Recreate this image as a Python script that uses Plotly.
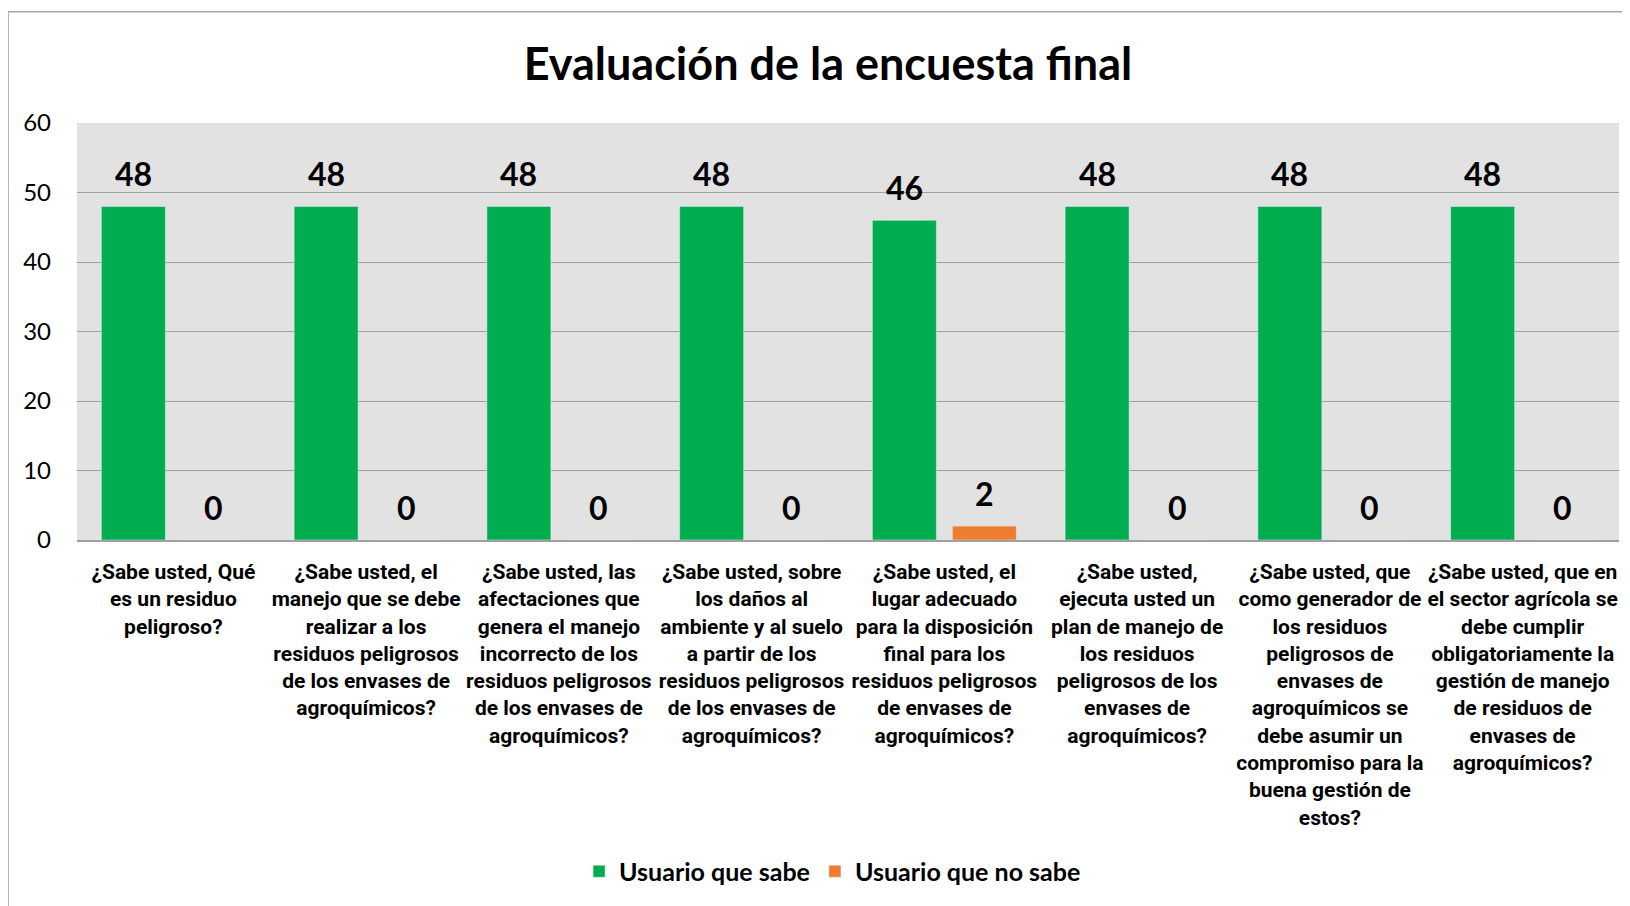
import plotly.graph_objects as go

# survey questions (x categories)
preguntas = [
    "¿Sabe usted, Qué<br>es un residuo<br>peligroso?",
    "¿Sabe usted, el<br>manejo que se debe<br>realizar a los<br>residuos peligrosos<br>de los envases de<br>agroquímicos?",
    "¿Sabe usted, las<br>afectaciones que<br>genera el manejo<br>incorrecto de los<br>residuos peligrosos<br>de los envases de<br>agroquímicos?",
    "¿Sabe usted, sobre<br>los daños al<br>ambiente y al suelo<br>a partir de los<br>residuos peligrosos<br>de los envases de<br>agroquímicos?",
    "¿Sabe usted, el<br>lugar adecuado<br>para la disposición<br>final para los<br>residuos peligrosos<br>de envases de<br>agroquímicos?",
    "¿Sabe usted,<br>ejecuta usted un<br>plan de manejo de<br>los residuos<br>peligrosos de los<br>envases de<br>agroquímicos?",
    "¿Sabe usted, que<br>como generador de<br>los residuos<br>peligrosos de<br>envases de<br>agroquímicos se<br>debe asumir un<br>compromiso para la<br>buena gestión de<br>estos?",
    "¿Sabe usted, que en<br>el sector agrícola se<br>debe cumplir<br>obligatoriamente la<br>gestión de manejo<br>de residuos de<br>envases de<br>agroquímicos?",
]
sabe = [48, 48, 48, 48, 46, 48, 48, 48]
no_sabe = [0, 0, 0, 0, 2, 0, 0, 0]
y_ticks = [0, 10, 20, 30, 40, 50, 60]

verde = "#00AE50"
naranja = "#ED7D31"
font_lbl = "Roboto, Liberation Sans Narrow, Arial Narrow, Arial"
font_main = "Lato, Calibri, Open Sans, sans-serif"

fig = go.Figure()
fig.add_trace(go.Bar(x=preguntas, y=sabe, name="<b>Usuario que sabe</b>",
                     marker_color=verde, width=0.332, offset=-0.3735))
fig.add_trace(go.Bar(x=preguntas, y=no_sabe, name="<b>Usuario que no sabe</b>",
                     marker_color=naranja, width=0.332, offset=0.0415))

# data labels
for q, v in zip(preguntas, sabe):
    fig.add_annotation(x=q, y=v, text="<b>%d</b>" % v, showarrow=False,
                       xshift=-40, yshift=33, yanchor="middle",
                       font=dict(size=32, color="black", family=font_main))
for q, v in zip(preguntas, no_sabe):
    fig.add_annotation(x=q, y=v, text="<b>%d</b>" % v, showarrow=False,
                       xshift=40, yshift=33, yanchor="middle",
                       font=dict(size=32, color="black", family=font_main))

# chart frame
fig.add_shape(type="line", xref="paper", yref="paper", x0=-0.0447, x1=-0.0447,
              y0=1.267, y1=-0.95, line=dict(color="#a6a6a6", width=1.5))
fig.add_shape(type="line", xref="paper", yref="paper", x0=-0.0447, x1=1.01,
              y0=1.267, y1=1.267, line=dict(color="#a6a6a6", width=1.5))

# page body has an 8px margin, so the figure is 8px smaller each way
fig.update_layout(
    width=1622, height=898,
    margin=dict(l=69, r=11, t=115, b=364),
    paper_bgcolor="white",
    plot_bgcolor="#e2e2e2",
    barmode="group",
    title=dict(text="<b>Evaluación de la encuesta final</b>", x=0.5055, xanchor="center",
               y=0.9376, yanchor="middle",
               font=dict(size=45, color="black", family=font_main)),
    legend=dict(orientation="h", x=0.49, xanchor="center", y=-0.795, yanchor="middle",
                font=dict(size=25, color="black", family=font_main),
                traceorder="normal", itemwidth=30),
    showlegend=True,
)
fig.update_xaxes(tickfont=dict(size=21, color="black", family=font_lbl),
                 tickangle=0, showline=True, linecolor="#a0a0a0", linewidth=1.5,
                 ticks="", ticklabelstandoff=12, automargin=False)
fig.update_yaxes(range=[0, 60], tickvals=y_ticks, showgrid=True, gridcolor="#a0a0a0",
                 gridwidth=1, zeroline=False, ticks="", ticklabelstandoff=25,
                 automargin=False,
                 tickfont=dict(size=24, color="black", family=font_main))

# bold category labels
fig.update_xaxes(ticktext=["<b>%s</b>" % q for q in preguntas], tickvals=preguntas)

fig.write_html("out.html")
